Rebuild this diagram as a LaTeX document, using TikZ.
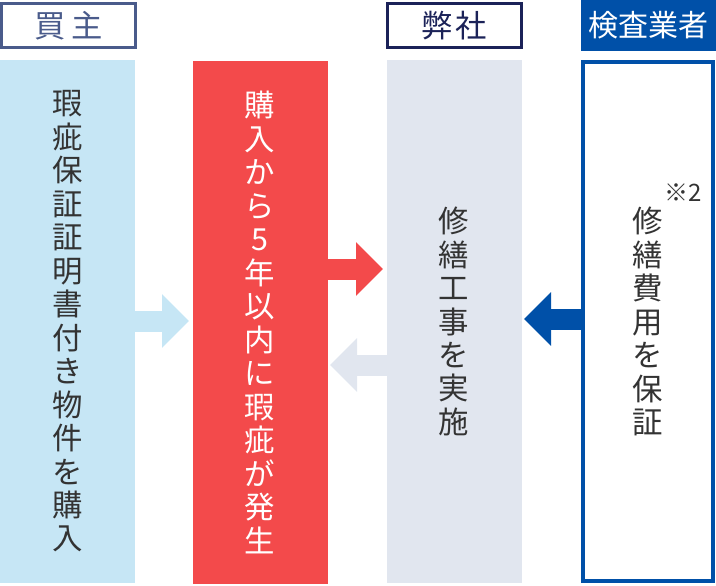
\documentclass[tikz,border=0pt]{standalone}
\usepackage{fontspec}
\setmainfont{Noto Sans CJK JP}
\usetikzlibrary{arrows.meta, positioning}

\definecolor{buyerline}{HTML}{4A5B8B}
\definecolor{ourline}{HTML}{1B2258}
\definecolor{inspblue}{HTML}{0050A8}
\definecolor{lbfill}{HTML}{C6E6F5}
\definecolor{redfill}{HTML}{F34A4B}
\definecolor{grayfill}{HTML}{E1E6EF}
\definecolor{textdark}{HTML}{333333}

\newcommand{\coltext}{\fontsize{22.8}{25.1}\selectfont}

\begin{document}
\begin{tikzpicture}[x=0.75pt, y=-0.75pt,
  header/.style={minimum width=100.5pt, minimum height=33pt, inner sep=0pt, outer sep=0pt,
    line width=2.25pt, font=\fontsize{23.5}{25}\selectfont},
  column/.style={minimum width=101.25pt, minimum height=392.25pt, inner sep=0pt, outer sep=0pt,
    align=center, font=\coltext, text=textdark},
  barrow/.style={line width=15.75pt, -{Triangle[length=20.25pt, width=39pt]}}]
  \useasboundingbox (0,0) rectangle (716,585);

  % 見出し
  \node[header, draw=buyerline, text=buyerline] (hbuyer) at (68.5,25.5) {買\hspace{4pt}主};
  \node[header, draw=ourline, text=ourline] (hours) at (454.5,25.5) {弊\hspace{2pt}社};
  \node[header, fill=inspblue, text=white, minimum width=101.25pt, minimum height=38.25pt, line width=0pt,
    font=\fontsize{22.5}{25}\selectfont] (hinsp) at (648.5,25.5) {検査業者};

  % 各列
  \node[column, fill=lbfill] (buy) at (67.5,321.5)
    {瑕\\疵\\保\\証\\証\\明\\書\\付\\き\\物\\件\\を\\購\\入};
  \node[column, fill=redfill, text=white] (defect) at (260,322.5)
    {購\\入\\か\\ら\\5\\年\\以\\内\\に\\瑕\\疵\\が\\発\\生};
  \node[column, fill=grayfill] (repair) at (454,321.5)
    {修\\繕\\工\\事\\を\\実\\施};
  \node[column, draw=inspblue, fill=white, line width=3pt, minimum width=97.5pt, minimum height=389.25pt]
    (cost) at (648,321.5) {修\\繕\\費\\用\\を\\保\\証};
  \node[text=textdark, font=\fontsize{18}{18}\selectfont, inner sep=0pt] (note) at (683.5,193) {※2};

  % 矢印
  \coordinate (t1) at (189,321);
  \coordinate (t2) at (383,269);
  \coordinate (t3) at (330,365);
  \coordinate (t4) at (524,319);
  \draw[barrow, lbfill] (buy.east |- t1) -- (t1);
  \draw[barrow, redfill] (defect.east |- t2) -- (t2);
  \draw[barrow, grayfill] (repair.west |- t3) -- (t3);
  \draw[barrow, inspblue] (cost.west |- t4) -- (t4);
\end{tikzpicture}
\end{document}
